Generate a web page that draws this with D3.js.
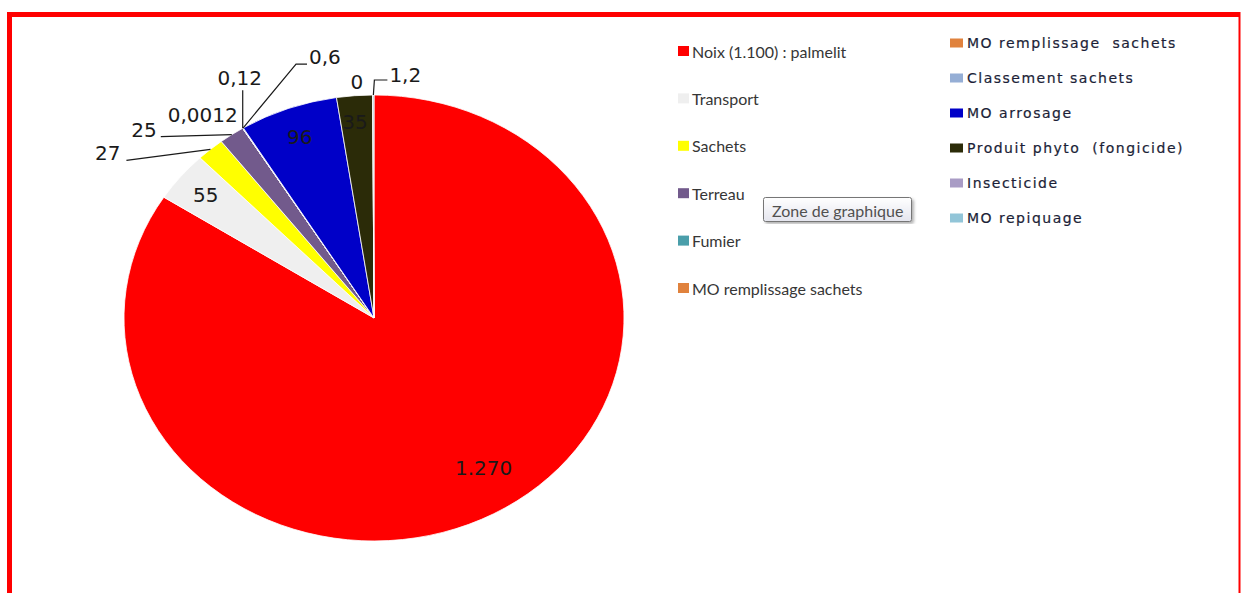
<!DOCTYPE html>
<html>
<head>
<meta charset="utf-8">
<script src="https://cdn.jsdelivr.net/npm/d3@7"></script>
<style>
  body { margin: 0; background: #fff; }
  svg { display: block; }
</style>
</head>
<body>
<div id="chart"></div>
<script>
// chart data
const categories = ["Noix (1.100) : palmelit", "Transport", "Sachets", "Terreau", "Fumier",
  "MO remplissage sachets", "Classement sachets", "MO arrosage", "Produit phyto (fongicide)",
  "Insecticide", "MO repiquage"];
const values = [1270, 55, 27, 25, 0.0012, 0.12, 0.6, 96, 35, 0, 1.2];
const valueLabels = ["1.270", "55", "27", "25", "0,0012", "0,12", "0,6", "96", "35", "0", "1,2"];
const colors = ["#ff0000", "#efefef", "#ffff00", "#725a8c", "#4a9eaa", "#e0823d",
  "#95aed5", "#0000c8", "#2b2b08", "#a99cc5", "#92c5d8"];
const rightLegendLabels = ["MO remplissage  sachets", "Classement sachets", "MO arrosage",
  "Produit phyto  (fongicide)", "Insecticide", "MO repiquage"];

const W = 1241, H = 593;
const svg = d3.select("#chart").append("svg").attr("width", W).attr("height", H);

// red frame
svg.append("rect").attr("x", 7).attr("y", 12).attr("width", 1233).attr("height", 5).attr("fill", "#ff0000");
svg.append("rect").attr("x", 7).attr("y", 12).attr("width", 5).attr("height", H - 12).attr("fill", "#ff0000");
svg.append("rect").attr("x", 1238.5).attr("y", 12).attr("width", 2).attr("height", H - 12).attr("fill", "#ff0000");

// pie (drawn as an ellipse)
const cx = 374, cy = 318, rx = 250, ry = 223;
const pie = d3.pie().sort(null).value(d => d)(values);
const arc = d3.arc().innerRadius(0).outerRadius(rx);

const pieG = svg.append("g").attr("transform", `translate(${cx},${cy}) scale(1,${ry / rx})`);
pieG.selectAll("path")
  .data(pie)
  .join("path")
  .attr("d", arc)
  .attr("fill", (d, i) => colors[i])
  .attr("stroke", "#fff")
  .attr("stroke-width", 0.8)
  .attr("vector-effect", "non-scaling-stroke");

// point on the ellipse at an angle, scaled by k
function pt(a, k) {
  return [cx + k * rx * Math.sin(a), cy - k * ry * Math.cos(a)];
}
const mid = d => (d.startAngle + d.endAngle) / 2;

// label placement: inside labels by radius, outside labels by offset from slice edge
const labelPlace = [
  { r: 0.765, dx: 18 },
  { r: 0.87 },
  { dx: -90, dy: 4, anchor: "end", leader: [[-84, 11]] },
  { dx: -75, dy: -5, anchor: "end", leader: [[-71, 2]] },
  { dx: -5, dy: -13, anchor: "end" },
  { dx: -3, dy: -50, anchor: "middle", leader: [[0, -38]] },
  { dx: 66, dy: -71, anchor: "start", leader: [[53, -64], [64, -64]] },
  { r: 0.865 },
  { r: 0.88, dx: -2 },
  { dx: -16, dy: -13, anchor: "middle" },
  { dx: 16, dy: -20, anchor: "start", leader: [[1, -15], [14, -15]] }
];

const labelG = svg.append("g");
pie.forEach((d, i) => {
  const p = labelPlace[i];
  let x, y, anchor = "middle";
  if (p.r !== undefined) {
    [x, y] = pt(mid(d), p.r);
    x += p.dx || 0;
  } else {
    const o = pt(mid(d), 1);
    x = o[0] + p.dx;
    y = o[1] + p.dy;
    anchor = p.anchor;
    if (p.leader) {
      const pts = [o].concat(p.leader.map(q => [o[0] + q[0], o[1] + q[1]]));
      labelG.append("path")
        .attr("d", d3.line()(pts))
        .attr("fill", "none")
        .attr("stroke", "#1a1a1a")
        .attr("stroke-width", 1.2);
    }
  }
  labelG.append("text")
    .attr("x", x)
    .attr("y", y)
    .attr("text-anchor", anchor)
    .attr("dominant-baseline", "central")
    .style("font-family", "DejaVu Sans, Verdana, sans-serif")
    .style("font-size", "20px")
    .style("fill", "#1a1a1a")
    .text(valueLabels[i]);
});

// left legend
const legL = svg.append("g");
d3.range(0, 6).forEach((i, k) => {
  const y = 51 + k * 47.4;
  legL.append("rect").attr("x", 678).attr("y", y - 5).attr("width", 11).attr("height", 10)
    .attr("fill", colors[i]);
  legL.append("text")
    .attr("x", 692).attr("y", y)
    .attr("dominant-baseline", "central")
    .style("font-family", "Lato, sans-serif")
    .style("font-size", "16px")
    .style("fill", "#363636")
    .text(categories[i]);
});

// right legend
const legR = svg.append("g");
d3.range(5, 11).forEach((i, k) => {
  const y = 43 + k * 35;
  legR.append("rect").attr("x", 950).attr("y", y - 4.5).attr("width", 13).attr("height", 9)
    .attr("fill", colors[i]);
  legR.append("text")
    .attr("x", 967).attr("y", y)
    .attr("dominant-baseline", "central")
    .attr("xml:space", "preserve")
    .style("white-space", "pre")
    .style("font-family", "DejaVu Sans, Verdana, sans-serif")
    .style("font-size", "14px")
    .style("letter-spacing", "1.5px")
    .style("fill", "#1c1f38")
    .style("stroke", "#1c1f38")
    .style("stroke-width", 0.2)
    .text(rightLegendLabels[k]);
});

// "Zone de graphique" tooltip
const defs = svg.append("defs");
const grad = defs.append("linearGradient").attr("id", "tipGrad")
  .attr("x1", "0%").attr("y1", "0%").attr("x2", "0%").attr("y2", "100%");
grad.append("stop").attr("offset", "0%").style("stop-color", "#ffffff");
grad.append("stop").attr("offset", "100%").style("stop-color", "#e4e5ee");
const shadow = defs.append("filter").attr("id", "tipShadow");
shadow.append("feDropShadow").attr("dx", 2).attr("dy", 2).attr("stdDeviation", 1.5)
  .attr("flood-color", "#000").attr("flood-opacity", 0.3);

const tip = svg.append("g");
tip.append("rect")
  .attr("x", 763.5).attr("y", 197.5).attr("width", 148).attr("height", 24).attr("rx", 2)
  .attr("fill", "url(#tipGrad)").attr("stroke", "#767676").attr("filter", "url(#tipShadow)");
tip.append("text")
  .attr("x", 772).attr("y", 210)
  .attr("dominant-baseline", "central")
  .style("font-family", "Lato, sans-serif")
  .style("font-size", "16px")
  .style("fill", "#505050")
  .text("Zone de graphique");
</script>
</body>
</html>
